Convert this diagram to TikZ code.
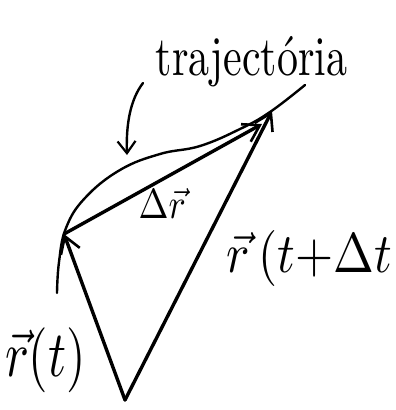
\documentclass[tikz,border=0pt]{standalone}
\usetikzlibrary{arrows.meta}
\begin{document}
\begin{tikzpicture}[x=1pt,y=-1pt,
  stroke/.style={line width=3.4pt,line cap=round,line join=round},
  vec/.style={stroke,-{Straight Barb[length=16pt,width=20pt,line width=2.6pt]}},
  thin/.style={line width=2.4pt,line cap=round},
  lbl/.style={inner sep=0pt,anchor=base west}]
\useasboundingbox (0,0) rectangle (396,410);
\coordinate (O) at (125,400);
\coordinate (P1) at (64,234);
\coordinate (P2) at (272,111);
\coordinate (D) at (262,124);
% trajectory
\draw[thin] plot[smooth,tension=0.7] coordinates {(57,293) (59,262) (66,228) (85,198) (120,170) (160,154) (200,146) (240,129) (270,112) (305,85)};
% vectors
\draw[vec] (O) -- (P1);
\draw[vec] (O) -- (P2);
\draw[vec] (P1) -- (D);
% label arrow
\coordinate (La) at (143,83);
\coordinate (Lb) at (127,155);
\draw[thin,-{Straight Barb[length=12pt,width=18pt,line width=2.2pt]}] (La) .. controls (130,100) and (126,125) .. (Lb);
% labels
\node[lbl,xscale=4.2,yscale=5.6] (traj) at (155,75) {trajectória};
\node[lbl,xscale=3.6,yscale=4.2] (dr) at (138,218) {$\Delta\vec{r}$};
\node[lbl,xscale=4.9,yscale=5.6] (r2) at (226,272) {$\vec{r}\,(t{+}\Delta t$};
\node[lbl,xscale=5,yscale=6.5] (r1) at (4,376) {$\vec{r}(t)$};
\end{tikzpicture}
\end{document}
